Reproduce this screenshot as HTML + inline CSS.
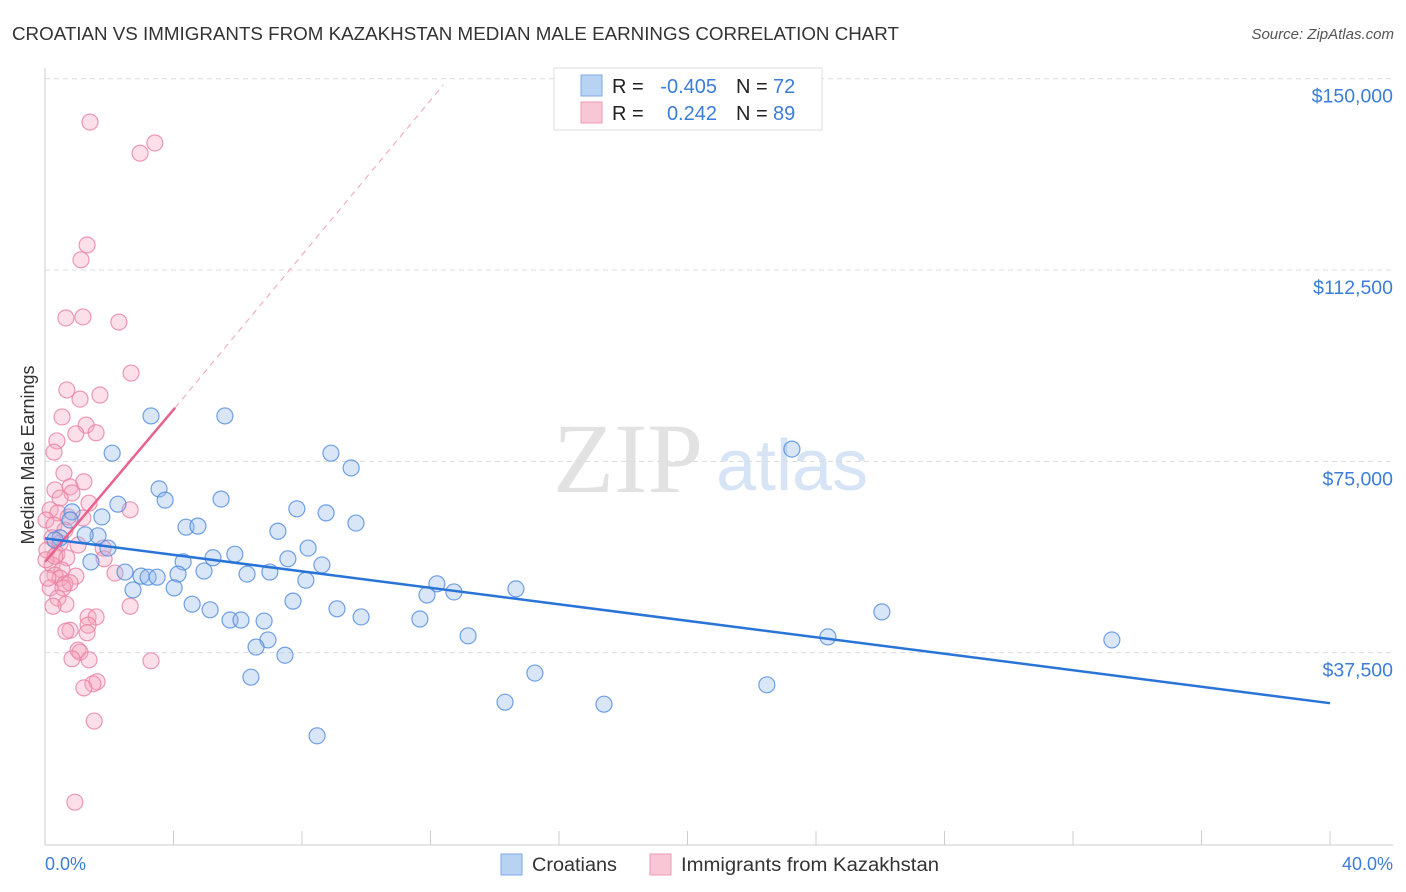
<!DOCTYPE html>
<html><head><meta charset="utf-8"><style>
body{margin:0;background:#fff;font-family:"Liberation Sans",sans-serif;}
svg{display:block}
</style></head><body>
<svg id="chart" width="1406" height="892">
<text x="12" y="40" font-size="18" fill="#333" textLength="887" lengthAdjust="spacingAndGlyphs">CROATIAN VS IMMIGRANTS FROM KAZAKHSTAN MEDIAN MALE EARNINGS CORRELATION CHART</text>
<text x="1394" y="39" font-size="15" fill="#555" font-style="italic" text-anchor="end">Source: ZipAtlas.com</text>
<g>
<text x="553" y="492" font-size="100" font-family="Liberation Serif,serif" fill="#e2e2e2">ZIP</text>
<text x="716" y="490" font-size="72" fill="#d6e4f5">atlas</text>
</g>
<g id="grid"></g>
<g id="axes"></g>
<g id="marks"></g>
<text transform="translate(34,455) rotate(-90)" font-size="18" fill="#333" text-anchor="middle">Median Male Earnings</text>
<text x="45" y="870" font-size="18" fill="#3b7dd8">0.0%</text>
<text x="1393" y="870" font-size="18" fill="#3b7dd8" text-anchor="end">40.0%</text>
<g>
<rect x="554" y="68" width="268" height="62" fill="#fff" stroke="#ddd"/>
<rect x="581" y="75" width="21" height="21" fill="#b8d2f3" stroke="#7ea9e4"/>
<rect x="581" y="102" width="21" height="21" fill="#f9c6d5" stroke="#ee9ab5"/>
<text x="612" y="93" font-size="20" fill="#222">R =</text>
<text x="717" y="93" font-size="20" fill="#3b7dd8" text-anchor="end">-0.405</text>
<text x="736" y="93" font-size="20" fill="#222">N =</text>
<text x="773" y="93" font-size="20" fill="#3b7dd8">72</text>
<text x="612" y="120" font-size="20" fill="#222">R =</text>
<text x="717" y="120" font-size="20" fill="#3b7dd8" text-anchor="end">0.242</text>
<text x="736" y="120" font-size="20" fill="#222">N =</text>
<text x="773" y="120" font-size="20" fill="#3b7dd8">89</text>
</g>
<g>
<rect x="501" y="854" width="21" height="21" fill="#b8d2f3" stroke="#7ea9e4"/>
<text x="532" y="871" font-size="19" fill="#333" textLength="85" lengthAdjust="spacingAndGlyphs">Croatians</text>
<rect x="650" y="854" width="21" height="21" fill="#f9c6d5" stroke="#ee9ab5"/>
<text x="681" y="871" font-size="19" fill="#333" textLength="258" lengthAdjust="spacingAndGlyphs">Immigrants from Kazakhstan</text>
</g>
</svg>
<script>
const yTicks=[37500,75000,112500,150000];
const yTickLabels=["$37,500","$75,000","$112,500","$150,000"];
const blueX=[3.30,5.60,2.09,8.90,9.53,23.25,3.55,3.74,5.48,2.27,7.84,8.75,1.77,0.84,0.78,4.39,4.76,9.68,7.25,1.65,1.96,8.19,1.43,4.30,5.23,5.91,7.56,8.62,2.49,2.99,3.21,3.49,4.14,4.95,6.29,7.00,8.12,12.20,11.89,12.73,14.66,2.74,4.02,7.72,4.58,5.14,9.09,9.84,5.76,6.10,6.82,11.67,13.17,24.37,26.05,33.21,6.94,6.57,7.47,6.41,15.25,22.47,14.32,17.40,8.47,0.47,0.31,1.25];
const blueY=[83.9,83.9,76.6,76.6,73.7,77.4,69.6,67.4,67.6,66.6,65.7,64.9,64.1,65.1,63.5,62.1,62.3,62.9,61.3,60.4,58.0,58.0,55.3,55.3,56.1,56.8,55.9,54.7,53.3,52.5,52.3,52.3,52.9,53.5,52.9,53.3,51.7,51.0,48.8,49.4,50.0,49.8,50.2,47.6,47.0,45.9,46.1,44.5,43.9,43.9,43.7,44.1,40.8,40.6,45.5,40.0,40.0,38.6,37.0,32.7,33.5,31.2,27.8,27.4,21.2,60.0,59.6,60.6];
const pinkX=[1.40,3.42,2.96,1.31,1.12,0.65,1.18,2.30,2.68,0.68,1.09,1.71,0.53,1.28,1.59,0.96,0.37,0.28,0.59,1.21,0.78,0.31,0.84,0.47,1.37,2.65,0.16,0.40,0.72,1.18,0.03,0.28,0.62,0.22,0.47,1.03,1.81,0.06,0.37,0.68,1.84,0.22,0.53,0.31,0.96,2.18,0.47,0.62,0.78,0.16,0.56,0.40,0.65,0.25,2.65,1.34,1.59,1.34,0.78,0.65,1.31,1.03,1.09,0.84,1.37,3.30,1.62,1.49,1.21,1.53,0.93,0.09,0.03,0.31];
const pinkY=[141.5,137.4,135.4,117.4,114.5,103.1,103.3,102.3,92.3,89.0,87.2,88.0,83.7,82.1,80.6,80.4,79.0,76.8,72.7,71.0,70.0,69.4,68.8,67.8,66.8,65.5,65.5,64.9,64.1,63.9,63.5,62.5,61.5,60.0,59.0,58.6,58.0,57.6,56.8,56.1,55.9,54.7,53.7,52.7,52.5,53.1,52.1,51.0,51.2,50.2,50.2,48.2,47.0,46.6,46.6,44.5,44.5,42.9,41.9,41.7,41.4,38.0,37.6,36.3,36.1,35.9,31.8,31.4,30.6,24.1,8.2,52.1,55.7,56.4];
const blueTrend=[[0,59.9],[40,27.6]];
const pinkTrend=[[0,55.3],[4.05,85.5]];
const pinkDash=[[4.05,85.5],[12.4,148.8]];
const NS="http://www.w3.org/2000/svg";
const xs=v=>45+v*32.125;
const ys=v=>844-v/0.196;
function mk(tag,attrs,parent){const e=document.createElementNS(NS,tag);for(const k in attrs)e.setAttribute(k,attrs[k]);parent.appendChild(e);return e;}
const grid=document.getElementById('grid'),axes=document.getElementById('axes'),marks=document.getElementById('marks');
yTicks.forEach((t,i)=>{const y=ys(t/1000);
const l=mk('line',{x1:45,x2:1393,y1:y,y2:y,stroke:'#dcdcdc','stroke-dasharray':'5,4'},grid);


const tx=mk('text',{x:1393,y:y+24,'font-size':19.5,fill:'#3b7dd8','text-anchor':'end'},grid);tx.textContent=yTickLabels[i];

});
const ax=mk('line',{x1:45,x2:1393,y1:845,y2:845,stroke:'#ccc'},axes);


const ay=mk('line',{x1:45,x2:45,y1:68,y2:845,stroke:'#ccc'},axes);


for(let i=0;i<=10;i++){const t=mk('line',{x1:xs(i*4),x2:xs(i*4),y1:831,y2:845,stroke:'#ccc'},axes);

}
function dots(X,Y,fill,stroke,name){X.forEach((x,i)=>{const c=mk('circle',{cx:xs(x),cy:ys(Y[i]),r:8,fill:fill,'fill-opacity':0.35,stroke:stroke,'stroke-width':1.2,'stroke-opacity':0.8},marks);

});}
dots(pinkX,pinkY,'#f5a3bd','#e87fa3','kazakhstan-point');
dots(blueX,blueY,'#8fb6ea','#4f8ade','croatian-point');
const pd=mk('line',{x1:xs(pinkDash[0][0]),y1:ys(pinkDash[0][1]),x2:xs(pinkDash[1][0]),y2:ys(pinkDash[1][1]),stroke:'#f0a0b8','stroke-dasharray':'6,5','stroke-width':1},marks);


const pt=mk('line',{x1:xs(pinkTrend[0][0]),y1:ys(pinkTrend[0][1]),x2:xs(pinkTrend[1][0]),y2:ys(pinkTrend[1][1]),stroke:'#e8628e','stroke-width':2.5},marks);


const bt=mk('line',{x1:xs(blueTrend[0][0]),y1:ys(blueTrend[0][1]),x2:xs(blueTrend[1][0]),y2:ys(blueTrend[1][1]),stroke:'#2a74d8','stroke-width':2.5},marks);


</script>
</body></html>
